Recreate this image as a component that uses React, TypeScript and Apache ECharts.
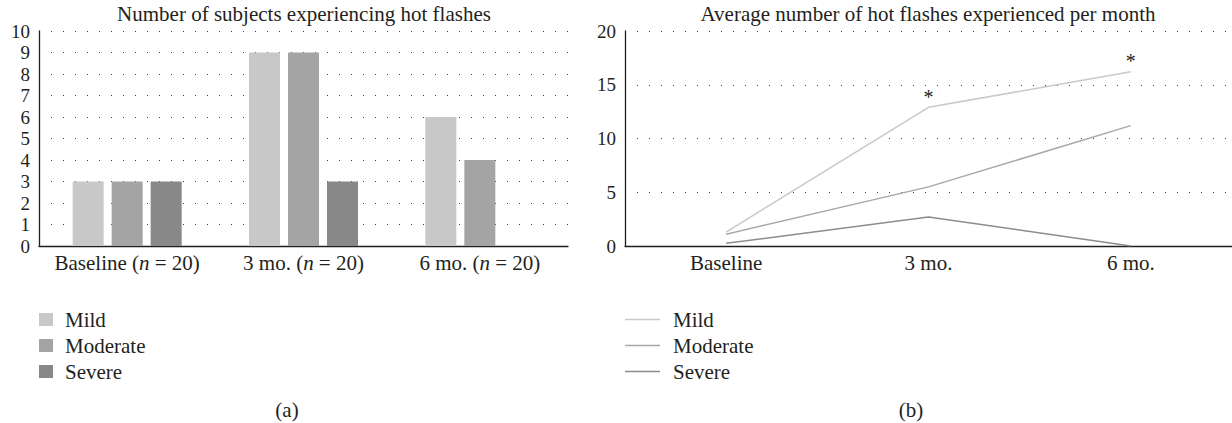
import React, { useEffect, useRef } from "react";
import * as echarts from "echarts";

const barCategories = ["Baseline (n = 20)", "3 mo. (n = 20)", "6 mo. (n = 20)"];
const lineCategories = ["Baseline", "3 mo.", "6 mo."];
const severityNames = ["Mild", "Moderate", "Severe"];
const barMild = [3, 9, 6];
const barModerate = [3, 9, 4];
const barSevere = [3, 3, 0];
const lineMild = [1.3, 12.9, 16.2];
const lineModerate = [1.1, 5.5, 11.2];
const lineSevere = [0.25, 2.7, 0];
const starredMildIndices = [1, 2];
const leftTitle = "Number of subjects experiencing hot flashes";
const rightTitle = "Average number of hot flashes experienced per month";

const FONT = "Liberation Serif, DejaVu Serif, serif";
const TXT = "#231f20";
const barColors = ["#c8c8c8", "#a4a4a4", "#888888"];
const lineColors = ["#c9c9c9", "#a8a8a8", "#8c8c8c"];

function catLabel(v: string) {
  return v.replace("n =", "{i|n} =");
}

export default function App() {
  const ref = useRef<HTMLDivElement>(null);
  useEffect(() => {
    if (!ref.current) return;
    const chart = echarts.init(ref.current, null, { renderer: "svg" });
    const dotted = { color: "#444", width: 1, type: [1, 11] as any };
    const axisLine = { show: true, lineStyle: { color: TXT, width: 1.3 } };
    const labelStyle = { color: TXT, fontFamily: FONT, fontSize: 21 };
    const tickStyle = { color: TXT, fontFamily: FONT, fontSize: 19 };
    const barVals = [barMild, barModerate, barSevere];
    const lineVals = [lineMild, lineModerate, lineSevere];
    const textEl = (text: string, x: number, y: number) => ({
      type: "text",
      x,
      y,
      style: {
        text,
        fill: TXT,
        fontFamily: FONT,
        fontSize: 21,
        textAlign: "center",
        textVerticalAlign: "middle",
      },
    });
    chart.setOption({
      animation: false,
      textStyle: { fontFamily: FONT },
      grid: [
        { left: 39, right: 1232 - 568, top: 31, bottom: 423 - 246 },
        { left: 625, right: 0, top: 31, bottom: 423 - 246 },
      ],
      xAxis: [
        {
          type: "category",
          gridIndex: 0,
          data: barCategories,
          axisLine,
          axisTick: { show: false },
          axisLabel: {
            ...labelStyle,
            margin: 6,
            interval: 0,
            formatter: (v: string) => catLabel(v),
            rich: { i: { ...labelStyle, fontStyle: "italic" } },
          },
        },
        {
          type: "category",
          gridIndex: 1,
          data: lineCategories,
          boundaryGap: true,
          axisLine,
          axisTick: { show: false },
          axisLabel: { ...labelStyle, margin: 6, interval: 0 },
        },
      ],
      yAxis: [
        {
          type: "value",
          gridIndex: 0,
          min: 0,
          max: 10,
          interval: 1,
          axisLine,
          axisTick: { show: false },
          axisLabel: { ...tickStyle, margin: 9 },
          splitLine: { show: true, lineStyle: dotted },
        },
        {
          type: "value",
          gridIndex: 1,
          min: 0,
          max: 20,
          interval: 5,
          axisLine,
          axisTick: { show: false },
          axisLabel: { ...tickStyle, margin: 9 },
          splitLine: { show: true, lineStyle: dotted },
        },
      ],
      legend: [
        {
          orient: "vertical",
          left: 39,
          top: 309,
          padding: 0,
          itemWidth: 14,
          itemHeight: 13,
          itemGap: 5,
          selectedMode: false,
          textStyle: { ...labelStyle, padding: [0, 0, 0, 7] },
          data: severityNames.map((n, i) => ({
            name: n,
            icon: "rect",
            itemStyle: { color: barColors[i] },
          })),
        },
        {
          orient: "vertical",
          left: 625,
          top: 309,
          padding: 0,
          itemWidth: 35,
          itemHeight: 1.5,
          itemGap: 5,
          selectedMode: false,
          textStyle: { ...labelStyle, padding: [0, 0, 0, 8] },
          data: severityNames.map((n, i) => ({
            name: n,
            icon: "rect",
            itemStyle: { color: lineColors[i] },
          })),
        },
      ],
      series: [
        ...severityNames.map((n, i) => ({
          name: n,
          type: "bar",
          xAxisIndex: 0,
          yAxisIndex: 0,
          barWidth: 31,
          barGap: "25.8%",
          itemStyle: { color: barColors[i] },
          data: barVals[i],
        })),
        ...severityNames.map((n, i) => ({
          name: n,
          type: "line",
          xAxisIndex: 1,
          yAxisIndex: 1,
          symbol: "circle",
          symbolSize: 1,
          showSymbol: true,
          lineStyle: { color: lineColors[i], width: 1.5 },
          itemStyle: { color: "rgba(0,0,0,0)" },
          data: lineVals[i].map((v, j) =>
            i === 0 && starredMildIndices.includes(j)
              ? {
                  value: v,
                  label: {
                    show: true,
                    position: "top",
                    distance: 0,
                    formatter: "*",
                    ...labelStyle,
                    fontSize: 20,
                  },
                }
              : v
          ),
        })),
      ],
      graphic: [
        textEl(leftTitle, 304, 14),
        textEl(rightTitle, 928, 14),
        textEl("(a)", 287, 410),
        textEl("(b)", 911, 410),
      ],
    });
    return () => chart.dispose();
  }, []);
  return (
    <div
      ref={ref}
      style={{ position: "absolute", left: 0, top: 0, width: 1232, height: 423, background: "#fff" }}
    />
  );
}
